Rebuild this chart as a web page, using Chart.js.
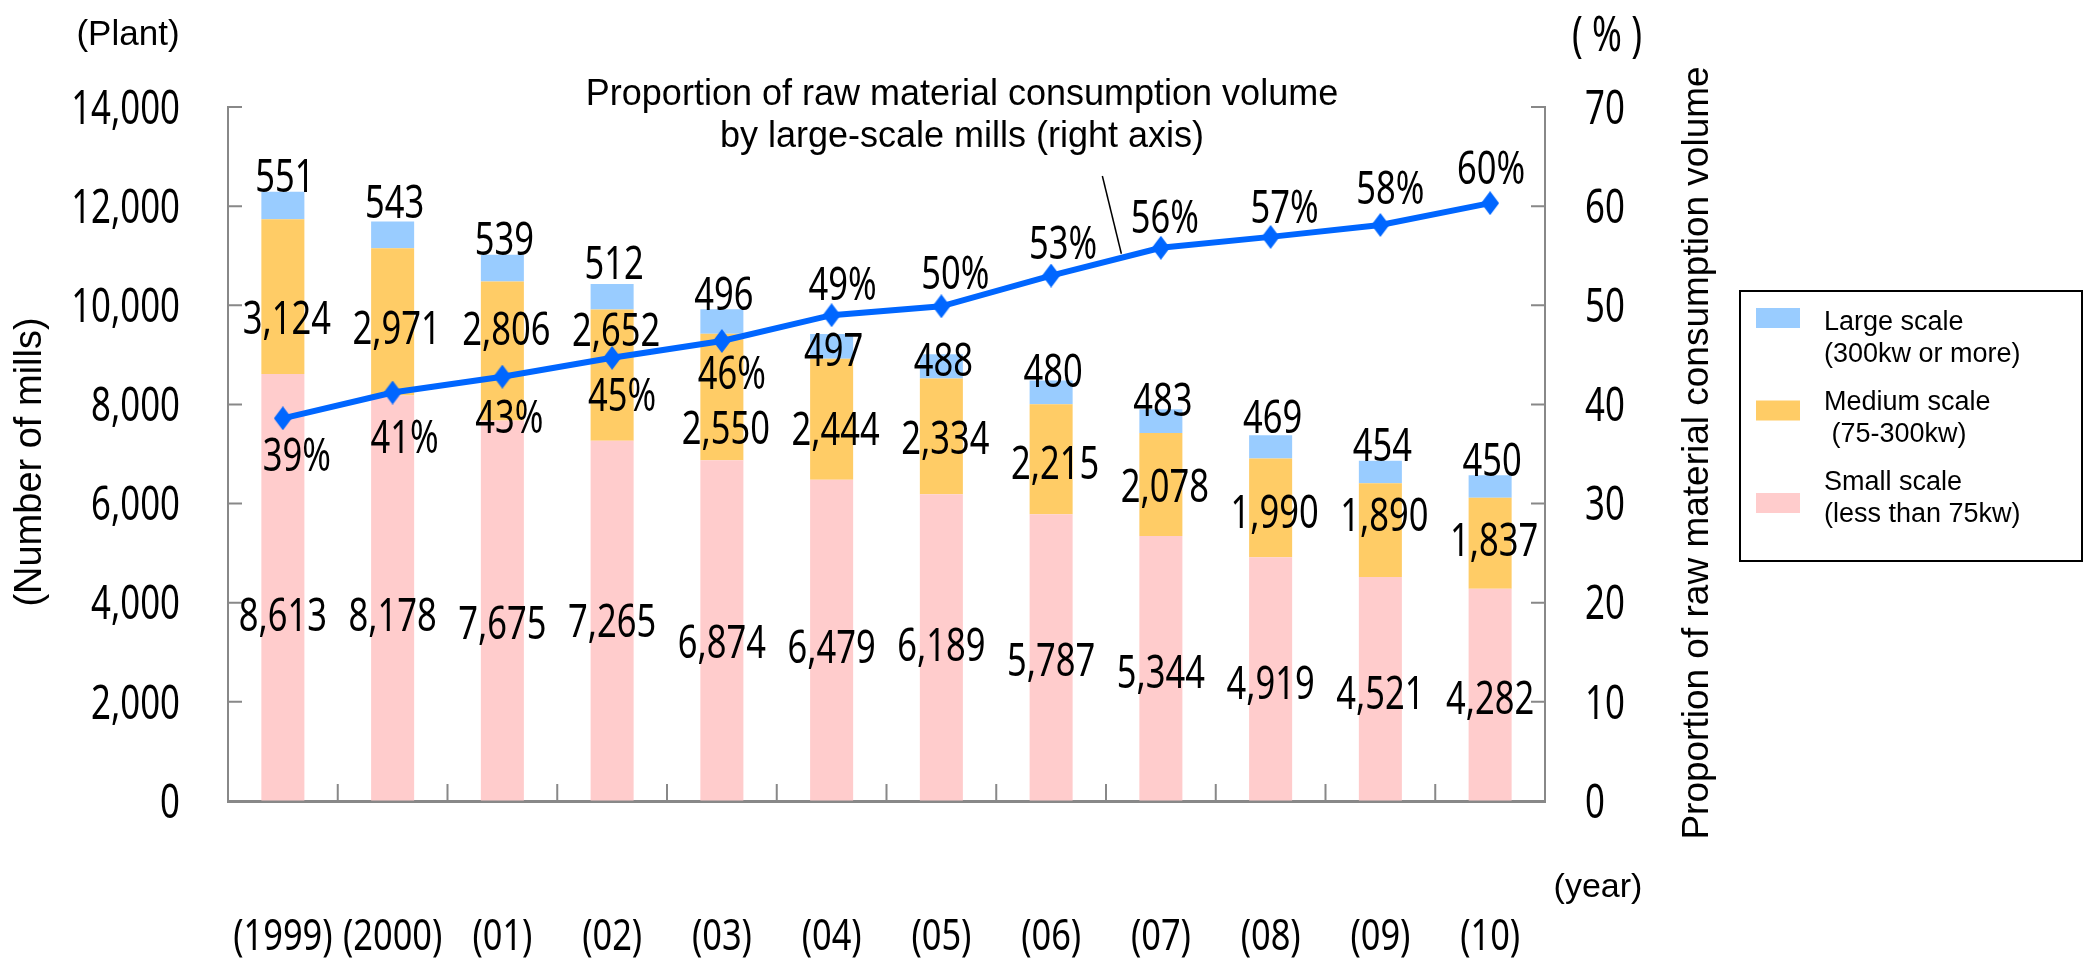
<!DOCTYPE html>
<html>
<head>
<meta charset="utf-8">
<script src="https://cdn.jsdelivr.net/npm/chart.js@4.4.1/dist/chart.umd.min.js"></script>
<style>
    html, body { margin: 0; padding: 0; background: #fff; }
</style>
</head>
<body>
<canvas id="millsChart" width="2087" height="961"></canvas>
<script>
// data
var years = ['(1999)', '(2000)', '(01)', '(02)', '(03)', '(04)', '(05)', '(06)', '(07)', '(08)', '(09)', '(10)'];
var smallScale = [8613, 8178, 7675, 7265, 6874, 6479, 6189, 5787, 5344, 4919, 4521, 4282];
var mediumScale = [3124, 2971, 2806, 2652, 2550, 2444, 2334, 2215, 2078, 1990, 1890, 1837];
var largeScale = [551, 543, 539, 512, 496, 497, 488, 480, 483, 469, 454, 450];
var largeShare = [38.6, 41.2, 42.8, 44.7, 46.4, 49.0, 49.9, 53.0, 55.8, 56.9, 58.1, 60.3];
var legendNames = [
    ['Large scale', '(300kw or more)'],
    ['Medium scale', ' (75-300kw)'],
    ['Small scale', '(less than 75kw)']
];

// hand placement of value labels, as in the original (pixel nudges)
var smallNudge = [27, 17, 12, 0, 11, 6, -3, 2, 3, 4, 4, 3];
var mediumNudge = [21, 6, -22, -46, 31, 9, 1, 3, 1, 4, -15, -4];
var largeNudge = [0, -4, 0, -5, 0, 32, 21, 6, 6, -3, 0, 0];
var shareNudge = [36, 44, 40, 37, 32, -32, -34, -33, -31, -30, -37, -36];
var shareShift = [14, 12, 7, 10, 10, 11, 14, 12, 4, 14, 10, 1];

var NUM_FONT = '"Noto Sans", "DejaVu Sans", sans-serif';
var TXT_FONT = '"Liberation Sans", Arial, sans-serif';
var AXIS_GREY = '#888888';

function fmt(v) {
    return Number(v).toLocaleString('en-US');
}

// condensed text, y is the vertical centre of the digits
function narrowText(ctx, text, x, y, size, align, sx) {
    ctx.save();
    ctx.translate(x, y);
    ctx.scale(sx, 1);
    ctx.font = size + 'px ' + NUM_FONT;
    ctx.textAlign = align;
    ctx.textBaseline = 'alphabetic';
    ctx.fillStyle = '#000';
    ctx.fillText(text, 0, size * 0.357);
    ctx.restore();
}

function plainText(ctx, text, x, y, size, align, rot) {
    ctx.save();
    ctx.translate(x, y);
    if (rot) ctx.rotate(rot);
    ctx.font = size + 'px ' + TXT_FONT;
    ctx.textAlign = align;
    ctx.textBaseline = 'middle';
    ctx.fillStyle = '#000';
    ctx.fillText(text, 0, 0);
    ctx.restore();
}

// tall diamond marker
var diamond = document.createElement('canvas');
diamond.width = 18;
diamond.height = 24;
(function () {
    var dc = diamond.getContext('2d');
    dc.fillStyle = '#0066FF';
    dc.beginPath();
    dc.moveTo(9, 0);
    dc.lineTo(18, 12);
    dc.lineTo(9, 24);
    dc.lineTo(0, 12);
    dc.closePath();
    dc.fill();
})();

var axisDecor = {
    id: 'axisDecor',
    afterDatasetsDraw: function (chart) {
        var ctx = chart.ctx;
        var area = chart.chartArea;
        var y = chart.scales.y, y1 = chart.scales.y1, x = chart.scales.x;
        ctx.save();
        ctx.strokeStyle = AXIS_GREY;
        ctx.lineWidth = 2;
        ctx.beginPath();
        y.ticks.forEach(function (t, i) {
            var py = y.getPixelForTick(i);
            ctx.moveTo(area.left, py);
            ctx.lineTo(area.left + 14, py);
        });
        y1.ticks.forEach(function (t, i) {
            var py = y1.getPixelForTick(i);
            ctx.moveTo(area.right - 14, py);
            ctx.lineTo(area.right, py);
        });
        for (var i = 0; i < x.ticks.length - 1; i++) {
            var px = (x.getPixelForTick(i) + x.getPixelForTick(i + 1)) / 2;
            ctx.moveTo(px, area.bottom - 17);
            ctx.lineTo(px, area.bottom);
        }
        ctx.stroke();
        ctx.restore();

        // tick labels
        y.ticks.forEach(function (t, i) {
            narrowText(ctx, fmt(t.value), area.left - 48, y.getPixelForTick(i), 47, 'right', 0.74);
        });
        y1.ticks.forEach(function (t, i) {
            narrowText(ctx, String(t.value), area.right + 40, y1.getPixelForTick(i), 47, 'left', 0.74);
        });
        x.ticks.forEach(function (t, i) {
            narrowText(ctx, years[i], x.getPixelForTick(i), area.bottom + 134, 43, 'center', 0.8);
        });
    }
};

var valueLabels = {
    id: 'valueLabels',
    afterDatasetsDraw: function (chart) {
        var ctx = chart.ctx;
        var small = chart.getDatasetMeta(0).data;
        var medium = chart.getDatasetMeta(1).data;
        var large = chart.getDatasetMeta(2).data;
        var share = chart.getDatasetMeta(3).data;
        for (var i = 0; i < years.length; i++) {
            var s = small[i], m = medium[i], l = large[i], p = share[i];
            narrowText(ctx, fmt(smallScale[i]), s.x, (s.y + s.base) / 2 + smallNudge[i], 46, 'center', 0.75);
            narrowText(ctx, fmt(mediumScale[i]), m.x + 4, (m.y + m.base) / 2 + mediumNudge[i], 46, 'center', 0.75);
            narrowText(ctx, fmt(largeScale[i]), l.x + 2, l.y - 16 + largeNudge[i], 46, 'center', 0.75);
            narrowText(ctx, Math.round(largeShare[i]) + '%', p.x + shareShift[i], p.y + shareNudge[i], 46, 'center', 0.75);
        }
    }
};

var frameTexts = {
    id: 'frameTexts',
    afterDraw: function (chart) {
        var ctx = chart.ctx;
        plainText(ctx, '(Plant)', 128, 35, 35, 'center');
        narrowText(ctx, '( % )', 1607, 33, 50, 'center', 0.72);
        plainText(ctx, '(Number of mills)', 31, 462, 38, 'center', -Math.PI / 2);
        plainText(ctx, 'Proportion of raw material consumption volume', 1698, 453, 37, 'center', -Math.PI / 2);
        plainText(ctx, '(year)', 1598, 888, 34, 'center');

        // callout for the line
        plainText(ctx, 'Proportion of raw material consumption volume', 962, 95, 36, 'center');
        plainText(ctx, 'by large-scale mills (right axis)', 962, 137, 36, 'center');
        var pts = chart.getDatasetMeta(3).data;
        var a = pts[7], b = pts[8];
        var bx = a.x + (b.x - a.x) * 0.64;
        var by = a.y + (b.y - a.y) * 0.64 - 4;
        ctx.save();
        ctx.strokeStyle = '#000';
        ctx.lineWidth = 1.5;
        ctx.beginPath();
        ctx.moveTo(bx - 19, 176);
        ctx.lineTo(bx, by);
        ctx.stroke();

        // legend box
        ctx.strokeStyle = '#000';
        ctx.lineWidth = 2;
        ctx.strokeRect(1740, 291, 342, 270);
        var sw = ['#99CCFF', '#FFCC66', '#FFCCCC'];
        for (var i = 0; i < 3; i++) {
            ctx.fillStyle = sw[i];
            ctx.fillRect(1756, 308 + i * 92.5, 44, 20);
            plainText(ctx, legendNames[i][0], 1824, 323 + i * 80, 27, 'left');
            plainText(ctx, legendNames[i][1], 1824, 355 + i * 80, 27, 'left');
        }
        ctx.restore();
    }
};

var ctx = document.getElementById('millsChart').getContext('2d');
var chart = new Chart(ctx, {
    type: 'bar',
    data: {
        labels: years,
        datasets: [{
            label: 'Small scale',
            data: smallScale,
            backgroundColor: '#FFCCCC',
            stack: 'mills',
            order: 1
        }, {
            label: 'Medium scale',
            data: mediumScale,
            backgroundColor: '#FFCC66',
            stack: 'mills',
            order: 1
        }, {
            label: 'Large scale',
            data: largeScale,
            backgroundColor: '#99CCFF',
            stack: 'mills',
            order: 1
        }, {
            type: 'line',
            label: 'Proportion by large-scale mills',
            data: largeShare,
            yAxisID: 'y1',
            borderColor: '#0066FF',
            borderWidth: 6,
            pointStyle: diamond,
            pointRadius: 12,
            tension: 0,
            order: 0
        }]
    },
    options: {
        responsive: false,
        devicePixelRatio: 1,
        animation: false,
        layout: { padding: { left: 228, right: 542, top: 107, bottom: 160 } },
        datasets: {
            bar: { barPercentage: 0.392, categoryPercentage: 1 }
        },
        plugins: {
            legend: { display: false },
            tooltip: { enabled: false }
        },
        scales: {
            x: {
                stacked: true,
                grid: { display: true, drawOnChartArea: false, drawTicks: false },
                border: { color: AXIS_GREY, width: 3 },
                ticks: { display: false }
            },
            y: {
                stacked: true,
                min: 0,
                max: 14000,
                ticks: { display: false, stepSize: 2000 },
                grid: { display: true, drawOnChartArea: false, drawTicks: false },
                border: { color: AXIS_GREY, width: 2 }
            },
            y1: {
                position: 'right',
                min: 0,
                max: 70,
                ticks: { display: false, stepSize: 10 },
                grid: { display: true, drawOnChartArea: false, drawTicks: false },
                border: { color: AXIS_GREY, width: 2 }
            }
        }
    },
    plugins: [axisDecor, valueLabels, frameTexts]
});
</script>
</body>
</html>
